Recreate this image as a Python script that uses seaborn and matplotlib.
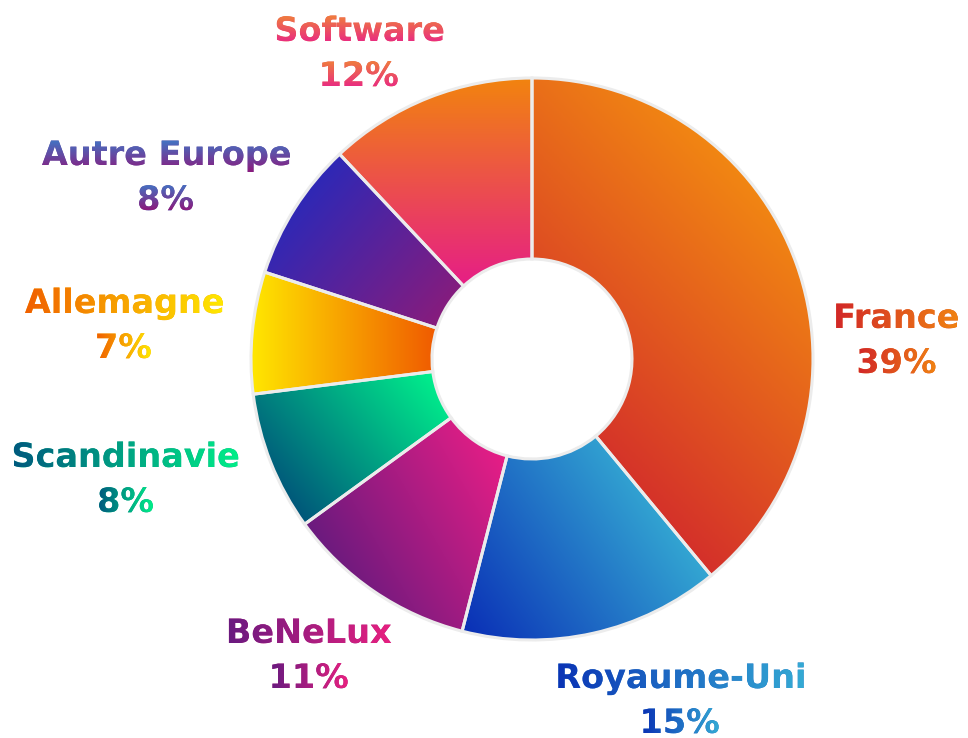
import numpy as np
import matplotlib
matplotlib.use("Agg")
import matplotlib.pyplot as plt
import seaborn as sns
from matplotlib.path import Path
from matplotlib.textpath import TextPath
from matplotlib.font_manager import FontProperties
from matplotlib.patches import PathPatch
from matplotlib.transforms import Affine2D

# données du graphique
regions = ["France", "Royaume-Uni", "BeNeLux", "Scandinavie", "Allemagne", "Autre Europe", "Software"]
parts = [39, 15, 11, 8, 7, 8, 12]

# dégradés des secteurs : (couleur début, couleur fin, direction en degrés)
wedge_grad = [("#d4302a", "#f28812", 45),
              ("#0a2fb6", "#33a6d2", 35),
              ("#6a1a7e", "#e81e86", 30),
              ("#00567a", "#00f08c", 40),
              ("#ffe800", "#f05a00", 0),
              ("#2e28b6", "#881c7c", -40),
              ("#f2840e", "#e61e86", -90)]
# dégradés des étiquettes
text_grad = [("#d22828", "#f08212", 0),
             ("#0b34b5", "#34aad4", 0),
             ("#6a1a80", "#e8207f", 0),
             ("#005a7e", "#00ee88", 0),
             ("#f06000", "#ffe800", 0),
             ("#4274c4", "#8c1a7c", -90),
             ("#f0803a", "#e92e80", -90)]
# position des étiquettes (centre x, ligne de base en pixels depuis le haut)
label_pos = [(897, 328), (681, 688), (310, 643), (126, 467), (124, 313), (166, 165), (360, 41)]

W, H = 968, 738
sns.set_theme(style="white")
fig = plt.figure(figsize=(W / 100, H / 100), dpi=100)
ax = fig.add_axes([0, 0, 1, 1])

cx, cy, R, r_in = 532, H - 359, 281, 100
wedges, _ = ax.pie(parts, startangle=90, counterclock=False, radius=R, center=(cx, cy),
                   wedgeprops=dict(width=R - r_in, facecolor="none", edgecolor="#ececec", linewidth=2.2, zorder=3))


def gradient_fill(path, clip, c0, c1, ang, z):
    d = np.array([np.cos(np.radians(ang)), np.sin(np.radians(ang))])
    v = path.vertices
    if path.codes is not None:
        v = v[path.codes != Path.CLOSEPOLY]
    proj = v @ d
    lo, hi = proj.min(), proj.max()
    x0, y0 = v.min(0)
    x1, y1 = v.max(0)
    gx, gy = np.meshgrid(np.linspace(x0, x1, 300), np.linspace(y0, y1, 300))
    t = (gx * d[0] + gy * d[1] - lo) / (hi - lo)
    cmap = sns.blend_palette([c0, c1], as_cmap=True)
    im = ax.imshow(t, cmap=cmap, vmin=0, vmax=1, origin="lower", interpolation="bilinear",
                   extent=(x0, x1, y0, y1), zorder=z)
    im.set_clip_path(clip)


for w, (c0, c1, ang) in zip(wedges, wedge_grad):
    gradient_fill(w.get_path(), w, c0, c1, ang, 2)

fp = FontProperties(family="DejaVu Sans", weight="bold")
fs = 33.5


def gradient_text(s, xc, yb, c0, c1, ang):
    tp = TextPath((0, 0), s, size=fs, prop=fp)
    e = tp.get_extents()
    path = Affine2D().translate(xc - (e.x0 + e.x1) / 2, yb).transform_path(tp)
    mid = sns.blend_palette([c0, c1], 3)[1]
    patch = PathPatch(path, facecolor=mid, edgecolor="none", transform=ax.transData, zorder=4)
    ax.add_patch(patch)
    gradient_fill(path, patch, c0, c1, ang, 5)


for name, p, (x, yb), (c0, c1, ang) in zip(regions, parts, label_pos, text_grad):
    gradient_text(name, x, H - yb, c0, c1, ang)
    gradient_text(f"{p}%", x, H - yb - 45, c0, c1, ang)

ax.set_xlim(0, W)
ax.set_ylim(0, H)
ax.set_aspect("equal")
ax.axis("off")

plt.savefig("out.png", dpi=100)
